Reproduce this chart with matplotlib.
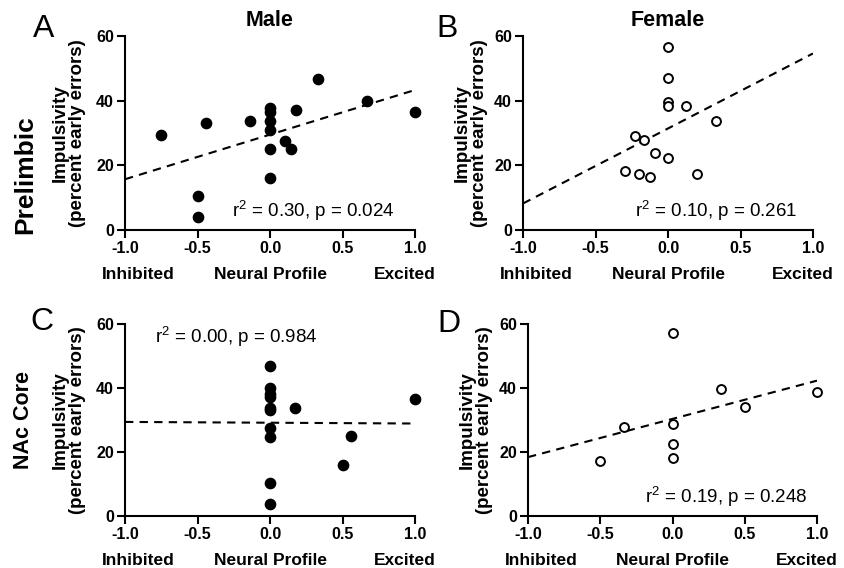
import matplotlib
matplotlib.use("Agg")
import matplotlib.pyplot as plt
import numpy as np

plt.rcParams['font.family'] = ['Liberation Sans', 'DejaVu Sans']
plt.rcParams['mathtext.fontset'] = 'custom'
plt.rcParams['mathtext.rm'] = 'Liberation Sans'
plt.rcParams['mathtext.it'] = 'Liberation Sans:italic'
plt.rcParams['mathtext.bf'] = 'Liberation Sans:bold'

# ---- data ----
male_pl_x = [-0.75, -0.44, -0.5, -0.5, -0.14, 0, 0, 0, 0, 0, 0, 0.10, 0.145, 0.18, 0.33, 0.667, 1.0]
male_pl_y = [29.5, 33.0, 10.6, 3.9, 33.6, 37.8, 36.6, 33.7, 30.8, 25.2, 16.2, 27.5, 24.9, 37.1, 46.8, 39.9, 36.5]
fem_pl_x = [0, 0, 0, 0, 0.126, 0.333, -0.225, -0.168, -0.092, 0, -0.30, -0.20, -0.124, 0.20]
fem_pl_y = [56.7, 47.1, 39.7, 38.5, 38.5, 33.8, 29.0, 27.8, 23.9, 22.4, 18.2, 17.2, 16.3, 17.3]
male_nac_x = [0, 0, 0, 0, 0, 0, 0, 0, 0, 0, 0.17, 0.56, 0.5, 1.0]
male_nac_y = [47.0, 40.0, 38.0, 37.2, 33.9, 33.1, 27.6, 24.7, 10.4, 3.8, 33.6, 25.1, 16.0, 36.6]
fem_nac_x = [0, 0.333, 1.0, 0.5, -0.333, 0, 0, 0, -0.5]
fem_nac_y = [57.1, 39.6, 38.7, 34.0, 27.8, 28.9, 22.4, 18.2, 17.2]

# regression lines: (intercept, slope)
fit_params = [(29.5, 13.8), (31.4, 23.2), (29.15, -0.25), (30.35, 11.95)]
stats_text = ["r$^2$ = 0.30, p = 0.024", "r$^2$ = 0.10, p = 0.261",
              "r$^2$ = 0.00, p = 0.984", "r$^2$ = 0.19, p = 0.248"]
stats_pos = [(-0.26, 4.0), (-0.23, 4.0), (-0.79, 54.2), (-0.19, 4.1)]
panel_letters = ["A", "B", "C", "D"]
col_titles = ["Male", "Female"]
row_labels = ["Prelimbic", "NAc Core"]
xticks = [-1.0, -0.5, 0.0, 0.5, 1.0]
yticks = [0, 20, 40, 60]

W, H = 844, 568
fig = plt.figure(figsize=(W / 100, H / 100), dpi=100)

rects = [(125, 36, 415, 230), (523, 36, 813, 230), (125, 324, 415, 516), (528, 324, 817, 516)]
datasets = [(male_pl_x, male_pl_y, True), (fem_pl_x, fem_pl_y, False),
            (male_nac_x, male_nac_y, True), (fem_nac_x, fem_nac_y, False)]
letter_pos = [(33, 37), (436, 37), (30, 330), (437, 332)]
ylabel_pads = [7, 4, 7, 4]

for i, (r, (xs, ys, filled)) in enumerate(zip(rects, datasets)):
    l, t, rr, b = r
    ax = fig.add_axes([l / W, 1 - b / H, (rr - l) / W, (b - t) / H])
    ax.set_xlim(-1, 1)
    ax.set_ylim(0, 60)
    if filled:
        ax.plot(xs, ys, 'o', color='black', markersize=7.4, clip_on=False, zorder=3)
    else:
        ax.plot(xs, ys, 'o', markerfacecolor='white', markeredgecolor='black',
                markeredgewidth=1.4, markersize=6.4, clip_on=False, zorder=3)
    a0, s0 = fit_params[i]
    lx = np.array([-1.0, 1.0])
    ax.plot(lx, a0 + s0 * lx, color='black', linestyle=(0, (4, 3)), linewidth=1.5, zorder=2)
    for sp in ['top', 'right']:
        ax.spines[sp].set_visible(False)
    for sp in ['left', 'bottom']:
        ax.spines[sp].set_linewidth(1.5)
    ax.set_xticks(xticks)
    ax.set_xticklabels([f"{v:.1f}" for v in xticks])
    ax.set_yticks(yticks)
    ax.tick_params(axis='both', length=6, width=1.5, labelsize=11.5, pad=2)
    for lab in ax.get_xticklabels() + ax.get_yticklabels():
        lab.set_fontweight('bold')
    ax.set_ylabel("Impulsivity\n(percent early errors)", fontsize=13.5, fontweight='bold',
                  linespacing=1.05, labelpad=ylabel_pads[i])
    h = b - t
    ty = -49.0 / h
    trans = ax.get_xaxis_transform()
    ax.text(-0.91, ty, "Inhibited", transform=trans, ha='center', va='baseline',
            fontsize=12.5, fontweight='bold')
    ax.text(0.0, ty, "Neural Profile", transform=trans, ha='center', va='baseline',
            fontsize=12.5, fontweight='bold')
    ax.text(0.93, ty, "Excited", transform=trans, ha='center', va='baseline',
            fontsize=12.5, fontweight='bold')
    sx, sy = stats_pos[i]
    ax.text(sx, sy, stats_text[i], fontsize=13.5, ha='left', va='baseline')
    if i < 2:
        ax.set_title(col_titles[i], fontsize=15.5, fontweight='bold', pad=7)
    lx0, ly0 = letter_pos[i]
    fig.text(lx0 / W, 1 - ly0 / H, panel_letters[i], fontsize=23, ha='left', va='baseline')

fig.text(25 / W, 1 - 175 / H, row_labels[0], rotation=90, fontsize=19, fontweight='bold',
         ha='center', va='center')
fig.text(24 / W, 1 - 420 / H, row_labels[1], rotation=90, fontsize=15.5, fontweight='bold',
         ha='center', va='center')

fig.savefig("out.png", dpi=100)
